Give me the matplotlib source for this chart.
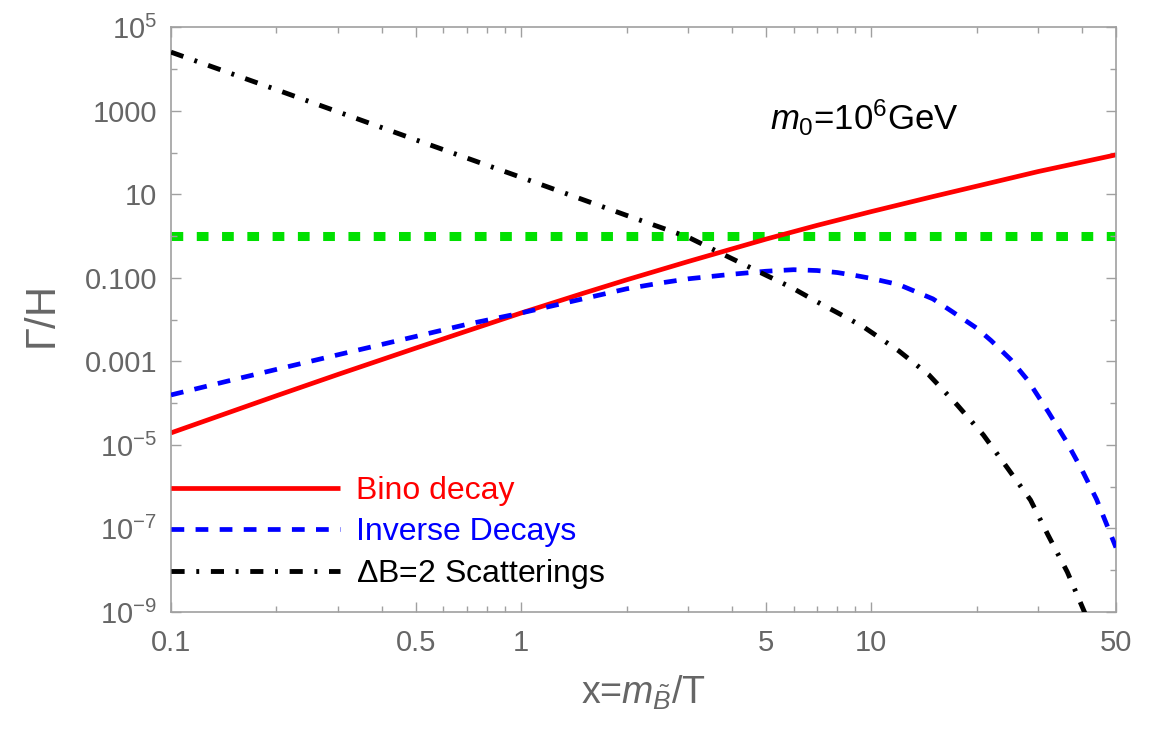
import matplotlib
matplotlib.use('Agg')
import matplotlib.pyplot as plt

# ---------------- data ----------------
bino_x = [0.1, 0.15, 0.2, 0.3, 0.5, 0.7, 1, 1.5, 2, 3, 5, 7, 10, 15, 20, 30, 50]
bino_y = [1.95e-5, 6.46e-5, 1.51e-4, 4.9e-4, 2.09e-3, 5.37e-3, 0.0145, 0.0427,
          0.0902, 0.248, 0.851, 1.82, 3.89, 8.91, 15.8, 35.5, 89.1]

inv_x = [0.1, 0.15, 0.2, 0.3, 0.5, 0.7, 1, 1.5, 2, 2.5, 3, 4, 5, 6, 7, 8, 9, 10,
         12, 15, 17, 20, 22, 25, 28, 32, 36, 40, 44, 50]
inv_y = [1.58e-4, 3.63e-4, 6.46e-4, 1.45e-3, 3.98e-3, 7.76e-3, 0.0145, 0.0316,
         0.055, 0.0759, 0.0955, 0.123, 0.145, 0.158, 0.151, 0.135, 0.115, 0.0977,
         0.0692, 0.0316, 0.0158, 6.3e-3, 3.16e-3, 1.12e-3, 3.55e-4, 6.3e-5,
         1.26e-5, 2.5e-6, 5.0e-7, 3.5e-8]

scat_x = [0.1, 0.2, 0.5, 1, 2, 3, 3.7, 5, 5.9, 7, 8, 9.5, 12, 14.6, 17.6, 20.9,
          24.5, 28.5, 32, 36.3, 40.4, 42]
scat_y = [2.57e4, 3.24e3, 204, 25.7, 3.16, 0.95, 0.40, 0.117, 0.060, 0.0269,
          0.0148, 6.76e-3, 1.78e-3, 4.8e-4, 9.1e-5, 1.74e-5, 2.8e-6, 4.8e-7,
          6.9e-8, 9.1e-9, 1.12e-9, 5.1e-10]

equilibrium_level = 1.0

series_labels = ['Bino decay', 'Inverse Decays', r'$\Delta$B=2 Scatterings']

xtick_major = [0.1, 0.5, 1, 5, 10, 50]
xtick_labels = ['0.1', '0.5', '1', '5', '10', '50']
xtick_minor = [0.2, 0.3, 0.4, 0.6, 0.7, 0.8, 0.9, 2, 3, 4, 6, 7, 8, 9, 20, 30, 40]

ytick_major = [1e5, 1e3, 1e1, 1e-1, 1e-3, 1e-5, 1e-7, 1e-9]
ytick_labels = [r'$10^{5}$', '1000', '10', '0.100', '0.001',
                r'$10^{-5}$', r'$10^{-7}$', r'$10^{-9}$']
ytick_minor = [1e4, 1e2, 1e0, 1e-2, 1e-4, 1e-6, 1e-8]

# ---------------- style ----------------
plt.rcParams['font.family'] = ['Liberation Sans', 'DejaVu Sans']
plt.rcParams['mathtext.fontset'] = 'custom'
plt.rcParams['mathtext.rm'] = 'Liberation Sans'
plt.rcParams['mathtext.it'] = 'Liberation Sans:italic'
plt.rcParams['mathtext.bf'] = 'Liberation Sans:bold'

GRAY_TXT = '#666666'
GRAY_AX = '#a0a0a0'

fig = plt.figure(figsize=(11.53, 7.31), dpi=100)
ax = fig.add_axes([0.1483, 0.1628, 0.8196, 0.7996])
ax.set_xscale('log')
ax.set_yscale('log')

ax.axhline(equilibrium_level, color='#00e000', lw=6.5, dashes=(1.3, 1.5),
           dash_capstyle='butt', zorder=1)
l1, = ax.plot(bino_x, bino_y, color='#ff0000', lw=3.4, zorder=2,
              solid_capstyle='butt')
l2, = ax.plot(inv_x, inv_y, color='#0000ff', lw=3.4, dashes=(2.7, 2.4),
              dash_capstyle='butt', zorder=3)
l3, = ax.plot(scat_x, scat_y, color='black', lw=3.5, dashes=(2.7, 2.4, 0.6, 2.4),
              dash_capstyle='butt', zorder=4)

ax.set_xlim(0.1, 50)
ax.set_ylim(1e-9, 1e5)

ax.set_xticks(xtick_major)
ax.set_xticklabels(xtick_labels)
ax.set_xticks(xtick_minor, minor=True)
ax.set_xticklabels([], minor=True)
ax.set_yticks(ytick_major)
ax.set_yticklabels(ytick_labels)
ax.set_yticks(ytick_minor, minor=True)
ax.set_yticklabels([], minor=True)

ax.tick_params(which='both', direction='in', top=True, right=True,
               color=GRAY_AX, width=1.0, labelcolor=GRAY_TXT, labelsize=21)
ax.tick_params(which='major', length=7.5)
ax.tick_params(axis='x', which='major', pad=12)
ax.tick_params(axis='y', which='major', pad=10)
ax.tick_params(which='minor', length=4)
for s in ax.spines.values():
    s.set_color(GRAY_AX)
    s.set_linewidth(1.2)

ax.set_xlabel(r'x=$m_{\tilde{B}}$/T', fontsize=27, color=GRAY_TXT, labelpad=12)
ax.set_ylabel(r'$\Gamma$/H', fontsize=30, color=GRAY_TXT, labelpad=14)

ax.text(0.634, 0.845, r'$m_0$=10$^6$GeV', transform=ax.transAxes,
        fontsize=25, va='center', ha='left', color='black')

leg = ax.legend([l1, l2, l3], series_labels, loc='upper left',
                bbox_to_anchor=(0.0, 0.232), frameon=False, fontsize=23,
                handlelength=5.3, handletextpad=0.5, labelspacing=0.33,
                borderaxespad=0, borderpad=0, labelcolor='linecolor')

fig.savefig('out.png', dpi=100)
